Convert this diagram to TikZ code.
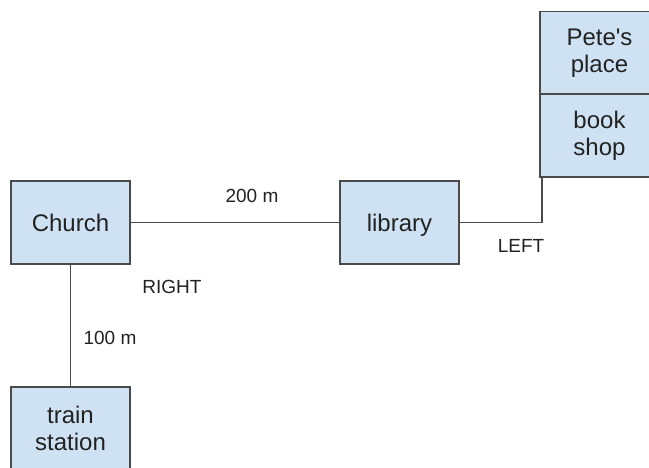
\documentclass[tikz,border=0pt]{standalone}
\usepackage{fontspec}
\setmainfont{Liberation Sans}
\newfontfamily\plainfont{Liberation Sans}
\definecolor{boxfill}{HTML}{CFE2F3}
\definecolor{edge}{HTML}{4A4A4A}
\definecolor{ink}{HTML}{222222}
\begin{document}
\begin{tikzpicture}[x=1pt,y=-1pt,
  place/.style={draw=edge,line width=1.2pt,fill=boxfill,text=ink,
    minimum width=119pt,minimum height=83pt,inner sep=0pt,align=center,
    font=\plainfont\fontsize{24}{27}\selectfont},
  road/.style={draw=edge,line width=1.3pt},
  lbl/.style={text=ink,inner sep=0pt,font=\fontsize{19}{22}\selectfont}]
\useasboundingbox (0,0) rectangle (649,468);
\clip (0,0) rectangle (649,468);
\fill[white] (0,0) rectangle (649,468);
\node[place] (church) at (70.5,222.5) {Church};
\node[place,text depth=0pt] (library) at (399.5,222.5) {library};
\node[place] (pete) at (599.5,53) {Pete's\\place};
\node[place] (book) at (599.5,135.5) {book\\shop};
\node[place] (train) at (70.5,428.5) {train\\station};
\coordinate (corner) at (542,222.5);
\draw[road] (church.east) -- (library.west);
\draw[road] (church.south) -- (train.north);
\draw[road] (library.east) -- (corner) -- (corner |- book.south);
\node[lbl] (l200) at (252,196) {200 m};
\node[lbl] (lright) at (172,287) {RIGHT};
\node[lbl] (l100) at (110,338) {100 m};
\node[lbl] (lleft) at (521,246) {LEFT};
\end{tikzpicture}
\end{document}
